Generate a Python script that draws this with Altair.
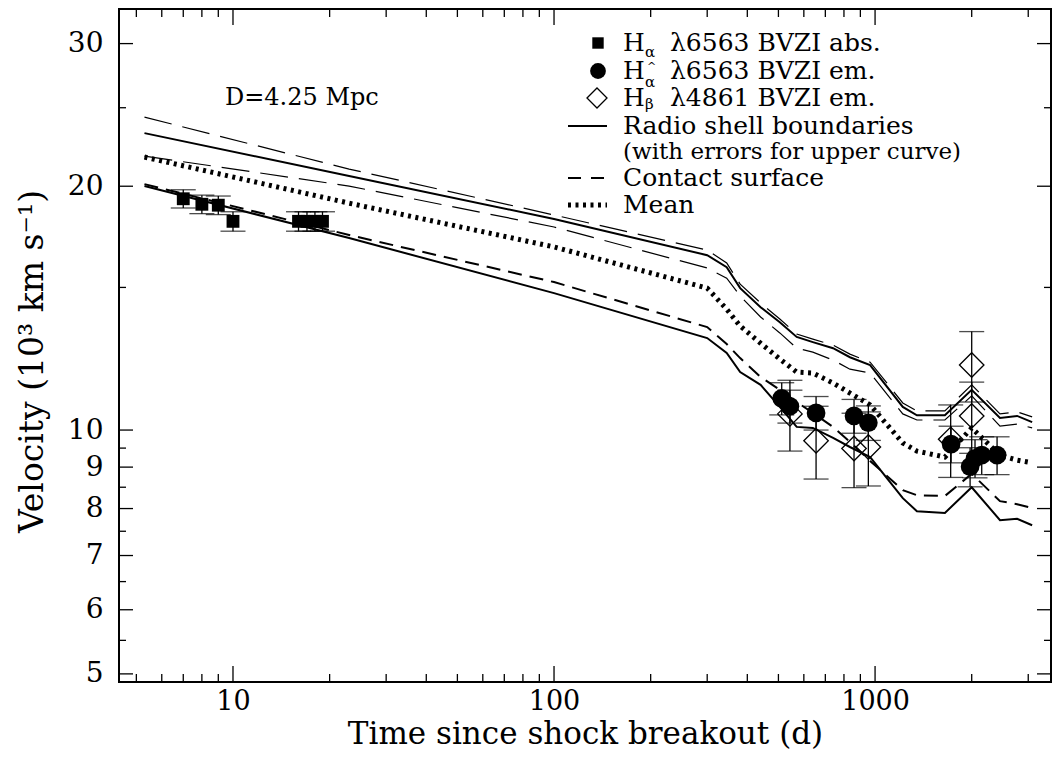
import altair as alt
import pandas as pd

# ---------------- data ----------------
# model curves (shared epochs, days)
T_MODEL = [5.3, 23, 100, 300, 345, 380, 440, 505, 570, 640, 740, 835, 965,
           1220, 1350, 1650, 2000, 2450, 2770, 3085]
V_OUTER = [23.26, 20.59, 18.22, 16.44, 15.89, 14.97, 14.18, 13.59, 13.03, 12.84,
           12.62, 12.30, 12.03, 10.68, 10.43, 10.43, 11.21, 10.35, 10.41, 10.23]
V_OUTER_HI = [24.34, 21.00, 18.43, 16.68, 16.08, 15.14, 14.35, 13.71, 13.14, 12.95,
              12.73, 12.41, 12.13, 10.80, 10.56, 10.56, 11.37, 10.47, 10.53, 10.38]
V_OUTER_LO = [21.79, 20.01, 17.81, 15.85, 15.40, 14.64, 13.79, 13.18, 12.62, 12.48,
              12.20, 11.89, 11.76, 10.47, 10.29, 10.29, 11.02, 10.11, 10.17, 10.06]
V_MEAN = [21.73, 19.06, 16.83, 14.97, 14.10, 13.44, 12.80, 12.24, 11.79, 11.76,
          11.43, 11.11, 10.74, 9.64, 9.42, 9.26, 10.06, 9.31, 9.18, 9.11]
V_CONTACT = [20.12, 17.41, 15.23, 13.40, 12.77, 12.27, 11.63, 11.21, 10.83, 10.50,
             10.09, 9.67, 9.16, 8.43, 8.31, 8.29, 8.83, 8.17, 8.10, 8.01]
V_INNER = [20.01, 17.26, 14.76, 12.99, 12.45, 11.79, 11.37, 10.68, 10.09, 10.06,
           9.78, 9.53, 9.26, 8.24, 7.94, 7.90, 8.50, 7.74, 7.77, 7.63]

# H-alpha absorption (filled squares)
ABS_T = [7, 8, 9, 10, 16, 17, 18, 19]
ABS_V = [19.3, 19.0, 18.95, 18.1, 18.1, 18.1, 18.1, 18.1]
ABS_E = [0.5, 0.5, 0.5, 0.5, 0.5, 0.5, 0.5, 0.5]

# H-alpha emission (filled circles)
EM_T = [512, 543, 655, 860, 953, 1725, 1977, 2048, 2149, 2399]
EM_V = [10.94, 10.70, 10.50, 10.41, 10.21, 9.61, 9.01, 9.23, 9.31, 9.31]
EM_E = [0.5, 0.5, 0.5, 0.5, 0.5, 0.5, 0.5, 0.5, 0.5, 0.5]

# H-beta emission (open diamonds)
HB_T = [543, 655, 860, 953, 1720, 2000, 2000]
HB_V = [10.47, 9.70, 9.49, 9.53, 9.74, 12.03, 10.41]
HB_E = [1.05, 1.0, 1.0, 1.0, 1.0, 1.2, 1.05]

# axis ticks
X_LABELS = [10, 100, 1000]
X_MINOR = [5, 6, 7, 8, 9, 20, 30, 40, 50, 60, 70, 80, 90,
           200, 300, 400, 500, 600, 700, 800, 900, 2000, 3000]
Y_LABELS = [5, 6, 7, 8, 9, 10, 20, 30]
Y_MINOR = [5.5, 6.5, 7.5, 8.5, 9.5, 15, 25]

# ---------------- chart ----------------
W, H = 932, 673
FONT = "DejaVu Serif"

xs = alt.Scale(type="log", domain=[4.415, 3532], nice=False)
ys = alt.Scale(type="log", domain=[4.886, 33.1], nice=False)

xaxis = alt.Axis(values=X_LABELS, format="d", ticks=False, domain=False, grid=False,
                 labelFont=FONT, labelFontSize=27, labelPadding=6, labelColor="black",
                 title="Time since shock breakout (d)", titleFont=FONT, titleFontSize=31,
                 titleFontWeight="normal", titleColor="black",
                 titleY=61, titleBaseline="alphabetic")
yaxis = alt.Axis(values=Y_LABELS, format="d", ticks=False, domain=False, grid=False,
                 labelFont=FONT, labelFontSize=28, labelPadding=16, labelColor="black",
                 title="Velocity (10³ km s⁻¹)", titleFont=FONT, titleFontSize=33,
                 titleFontWeight="normal", titleColor="black",
                 titleX=-87, titleY=352, titleBaseline="middle", titleAngle=270)


def X(f="t"):
    return alt.X(f"{f}:Q", scale=xs, axis=xaxis)


def Y(f="v"):
    return alt.Y(f"{f}:Q", scale=ys, axis=yaxis)


def curve(vals, **style):
    df = pd.DataFrame({"t": T_MODEL, "v": vals})
    return alt.Chart(df).mark_line(color="black", clip=True, **style).encode(x=X(), y=Y())


DOT = dict(strokeWidth=5, strokeDash=[3, 4.5], strokeCap="butt")

layers = [
    curve(V_OUTER_HI, strokeWidth=1.2, strokeDash=[28, 11]),
    curve(V_OUTER_LO, strokeWidth=1.2, strokeDash=[28, 11]),
    curve(V_OUTER, strokeWidth=2),
    curve(V_MEAN, **DOT),
    curve(V_CONTACT, strokeWidth=2, strokeDash=[14, 8]),
    curve(V_INNER, strokeWidth=2),
]


def points(ts, vs, es, shape, size, filled, sw):
    df = pd.DataFrame({"t": ts, "v": vs, "e": es})
    base = alt.Chart(df).transform_calculate(lo="datum.v - datum.e", hi="datum.v + datum.e")
    bar = base.mark_rule(color="black", strokeWidth=1.3).encode(
        x=X(), y=Y("lo"), y2=alt.Y2("hi:Q"))
    cap_lo = base.mark_tick(color="black", orient="horizontal", size=25, thickness=1.3).encode(
        x=X(), y=Y("lo"))
    cap_hi = base.mark_tick(color="black", orient="horizontal", size=25, thickness=1.3).encode(
        x=X(), y=Y("hi"))
    if filled:
        mk = base.mark_point(shape=shape, size=size, filled=True, color="black", opacity=1)
    else:
        mk = base.mark_point(shape=shape, size=size, filled=False, color="black",
                             strokeWidth=sw, opacity=1)
    return [bar, cap_lo, cap_hi, mk.encode(x=X(), y=Y())]


layers += points(ABS_T, ABS_V, ABS_E, "square", 165, True, 1)
layers += points(HB_T, HB_V, HB_E, "diamond", 600, False, 1.3)
layers += points(EM_T, EM_V, EM_E, "circle", 350, True, 1)

one = pd.DataFrame({"d": [0]})


def txt(s, x, y, size, align="left", baseline="middle"):
    return alt.Chart(one).mark_text(text=s, font=FONT, fontSize=size, color="black",
                                    align=align, baseline=baseline).encode(
        x=alt.value(x), y=alt.value(y))


def sym(shape, x, y, size, filled):
    return alt.Chart(one).mark_point(shape=shape, size=size, filled=filled, color="black",
                                     opacity=1, strokeWidth=1.3).encode(
        x=alt.value(x), y=alt.value(y))


def lline(y, **style):
    return alt.Chart(one).mark_rule(color="black", **style).encode(
        x=alt.value(449), x2=alt.value(488), y=alt.value(y))


LF = 25
SF = 15
layers += [
    txt("D=4.25 Mpc", 106, 89, 24),
    sym("square", 479, 34, 130, True),
    sym("circle", 479, 62, 250, True),
    sym("diamond", 478, 89, 400, False),
    txt("H", 504, 34, LF), txt("α", 526, 43, SF), txt("λ6563 BVZI abs.", 551, 34, LF),
    txt("H", 504, 62, LF), txt("^", 528, 58, 11), txt("α", 526, 73, SF),
    txt("λ6563 BVZI em.", 551, 62, LF),
    txt("H", 504, 89, LF), txt("β", 526, 95, SF), txt("λ4861 BVZI em.", 551, 89, LF),
    lline(117, strokeWidth=2),
    txt("Radio shell boundaries", 504, 117, LF),
    txt("(with errors for upper curve)", 504, 143, 23),
    lline(169, strokeWidth=2, strokeDash=[13, 10]),
    txt("Contact surface", 504, 169, LF),
    lline(196, **DOT),
    txt("Mean", 504, 196, LF),
]

# inward ticks on all four sides
XMAJ, XMIN, YMAJ, YMIN = 16, 8, 14, 7


def xticks(vals, y0, y1):
    df = pd.DataFrame({"t": vals})
    return alt.Chart(df).mark_rule(color="black", strokeWidth=1.3).encode(
        x=X(), y=alt.value(y0), y2=alt.value(y1))


def yticks(vals, x0, x1):
    df = pd.DataFrame({"v": vals})
    return alt.Chart(df).mark_rule(color="black", strokeWidth=1.3).encode(
        y=Y(), x=alt.value(x0), x2=alt.value(x1))


layers += [
    xticks(X_LABELS, H, H - XMAJ), xticks(X_MINOR, H, H - XMIN),
    xticks(X_LABELS, 0, XMAJ), xticks(X_MINOR, 0, XMIN),
    yticks(Y_LABELS, 0, YMAJ), yticks(Y_MINOR, 0, YMIN),
    yticks(Y_LABELS, W, W - YMAJ), yticks(Y_MINOR, W, W - YMIN),
]

chart = alt.layer(*layers).properties(
    width=W, height=H,
    padding={"left": 111, "top": 1, "right": 1, "bottom": 71},
    autosize=alt.AutoSizeParams(type="none"),
).configure(background="white").configure_view(stroke="black", strokeWidth=2)

chart.save("out.html", embed_options={"renderer": "svg", "actions": False})
